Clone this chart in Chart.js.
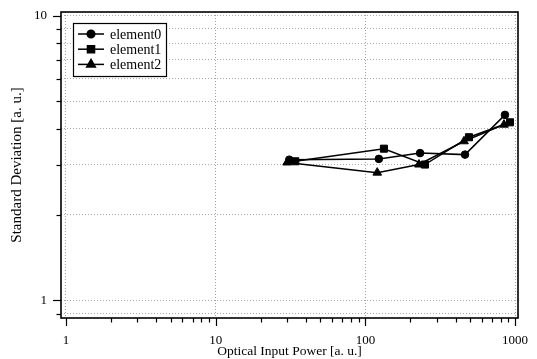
<!DOCTYPE html>
<html>
<head>
<meta charset="utf-8">
<script src="https://cdn.jsdelivr.net/npm/chart.js@4.4.0/dist/chart.umd.min.js"></script>
<style>
  html, body { margin: 0; padding: 0; background: #fff; }
</style>
</head>
<body>
<canvas id="chart" width="537" height="359"></canvas>
<script>
// Data
const SERIES_NAMES = ['element0', 'element1', 'element2'];
const POINT_STYLES = ['circle', 'rect', 'triangle'];
const POINT_RADII = [3.8, 5, 5];

const power0 = [31, 123, 232, 463, 856];
const stdev0 = [3.12, 3.14, 3.29, 3.25, 4.48];
const power1 = [34, 133, 250, 492, 925];
const stdev1 = [3.08, 3.41, 3.00, 3.74, 4.22];
const power2 = [30, 120, 228, 456, 843];
const stdev2 = [3.05, 2.81, 3.00, 3.62, 4.14];

const X_TICKS = [1, 2, 3, 4, 5, 6, 7, 8, 9, 10, 20, 30, 40, 50, 60, 70, 80, 90,
  100, 200, 300, 400, 500, 600, 700, 800, 900, 1000];
const X_LABELS = [1, 10, 100, 1000];
const Y_TICKS = [0.9, 1, 2, 3, 4, 5, 6, 7, 8, 9, 10];
const Y_LABELS = [1, 10];

const FONT = 'Liberation Serif, Times New Roman, serif';

function toPoints(xs, ys) {
  return xs.map((x, i) => ({ x, y: ys[i] }));
}

function makeDataset(idx, xs, ys) {
  return {
    label: SERIES_NAMES[idx],
    data: toPoints(xs, ys),
    showLine: true,
    borderColor: '#000',
    backgroundColor: '#000',
    borderWidth: 1.5,
    pointStyle: POINT_STYLES[idx],
    pointRadius: POINT_RADII[idx],
    pointBorderWidth: 1,
    tension: 0,
  };
}

// no extra room for overhanging tick labels: the plot box is fixed
function noOverhang(scale) {
  scale.paddingLeft = 0;
  scale.paddingRight = 0;
  scale.paddingTop = 0;
  scale.paddingBottom = 0;
}

// frame + outward tick marks, drawn from the scales
const framePlugin = {
  id: 'frame',
  afterDraw(chart) {
    const { ctx, chartArea: a, scales } = chart;
    ctx.save();
    ctx.strokeStyle = '#000';
    ctx.lineWidth = 1.2;
    Y_TICKS.forEach((v) => {
      const y = Math.round(scales.y.getPixelForValue(v)) + 0.5;
      const len = Y_LABELS.includes(v) ? 8 : 4.5;
      ctx.beginPath();
      ctx.moveTo(a.left - len, y);
      ctx.lineTo(a.left, y);
      ctx.stroke();
    });
    X_TICKS.forEach((v) => {
      const x = Math.round(scales.x.getPixelForValue(v)) + 0.5;
      const len = X_LABELS.includes(v) ? 8 : 4.5;
      ctx.beginPath();
      ctx.moveTo(x, a.bottom);
      ctx.lineTo(x, a.bottom + len);
      ctx.stroke();
    });
    ctx.lineWidth = 1.6;
    ctx.strokeRect(a.left, a.top, a.right - a.left, a.bottom - a.top);
    ctx.restore();
  },
};

// boxed legend inside the plot, top left
const boxLegendPlugin = {
  id: 'boxLegend',
  afterDraw(chart) {
    const { ctx } = chart;
    const box = { x: 73, y: 23, w: 93, h: 53 };
    ctx.save();
    ctx.fillStyle = '#fff';
    ctx.fillRect(box.x, box.y, box.w, box.h);
    ctx.strokeStyle = '#000';
    ctx.lineWidth = 1.2;
    ctx.strokeRect(box.x + 0.5, box.y + 0.5, box.w, box.h);
    ctx.font = '14px ' + FONT;
    ctx.textBaseline = 'middle';
    chart.data.datasets.forEach((ds, i) => {
      const y = box.y + 11 + i * 15.2;
      ctx.strokeStyle = '#000';
      ctx.lineWidth = 1.5;
      ctx.beginPath();
      ctx.moveTo(box.x + 5, y);
      ctx.lineTo(box.x + 31, y);
      ctx.stroke();
      ctx.fillStyle = '#000';
      Chart.helpers.drawPoint(ctx, {
        pointStyle: ds.pointStyle,
        radius: ds.pointRadius,
        rotation: 0,
        borderWidth: 1,
      }, box.x + 18, y);
      ctx.fillStyle = '#000';
      ctx.fillText(ds.label, box.x + 37, y + 1);
    });
    ctx.restore();
  },
};

const tickFont = { family: FONT, size: 13 };

new Chart(document.getElementById('chart'), {
  type: 'scatter',
  data: {
    datasets: [
      makeDataset(0, power0, stdev0),
      makeDataset(1, power1, stdev1),
      makeDataset(2, power2, stdev2),
    ],
  },
  options: {
    responsive: false,
    animation: false,
    devicePixelRatio: 1,
    layout: { padding: { top: 12, right: 19, left: 0, bottom: 0 } },
    scales: {
      x: {
        type: 'logarithmic',
        min: 0.926,
        max: 1046,
        afterBuildTicks(scale) {
          scale.ticks = X_TICKS.map((v) => ({ value: v }));
        },
        afterFit(scale) {
          scale.height = 41;
          noOverhang(scale);
        },
        grid: {
          drawTicks: false,
          lineWidth: 1,
          color: (c) => (c.tick && X_LABELS.includes(c.tick.value) ? '#a0a0a0' : 'rgba(0,0,0,0)'),
        },
        border: { display: false, dash: [1, 2] },
        ticks: {
          autoSkip: false,
          maxRotation: 0,
          padding: 15,
          color: '#000',
          font: tickFont,
          callback: (v) => (X_LABELS.includes(v) ? String(v) : ''),
        },
        title: {
          display: true,
          text: 'Optical Input Power [a. u.]',
          color: '#000',
          font: { family: FONT, size: 13.5 },
          padding: { top: 0, bottom: -1 },
        },
      },
      y: {
        type: 'logarithmic',
        min: 0.868,
        max: 10.29,
        afterBuildTicks(scale) {
          scale.ticks = Y_TICKS.map((v) => ({ value: v }));
        },
        afterFit(scale) {
          scale.width = 61;
          noOverhang(scale);
        },
        grid: {
          drawTicks: false,
          lineWidth: 1,
          color: '#a8a8a8',
        },
        border: { display: false, dash: [1, 2] },
        ticks: {
          autoSkip: false,
          padding: 14,
          color: '#000',
          font: tickFont,
          callback: (v) => (Y_LABELS.includes(v) ? String(v) : ''),
        },
        title: {
          display: true,
          text: 'Standard Deviation [a. u.]',
          color: '#000',
          font: { family: FONT, size: 15 },
          padding: { top: 8, bottom: 0 },
        },
      },
    },
    plugins: {
      legend: { display: false },
      tooltip: { enabled: false },
    },
  },
  plugins: [framePlugin, boxLegendPlugin],
});
</script>
</body>
</html>
